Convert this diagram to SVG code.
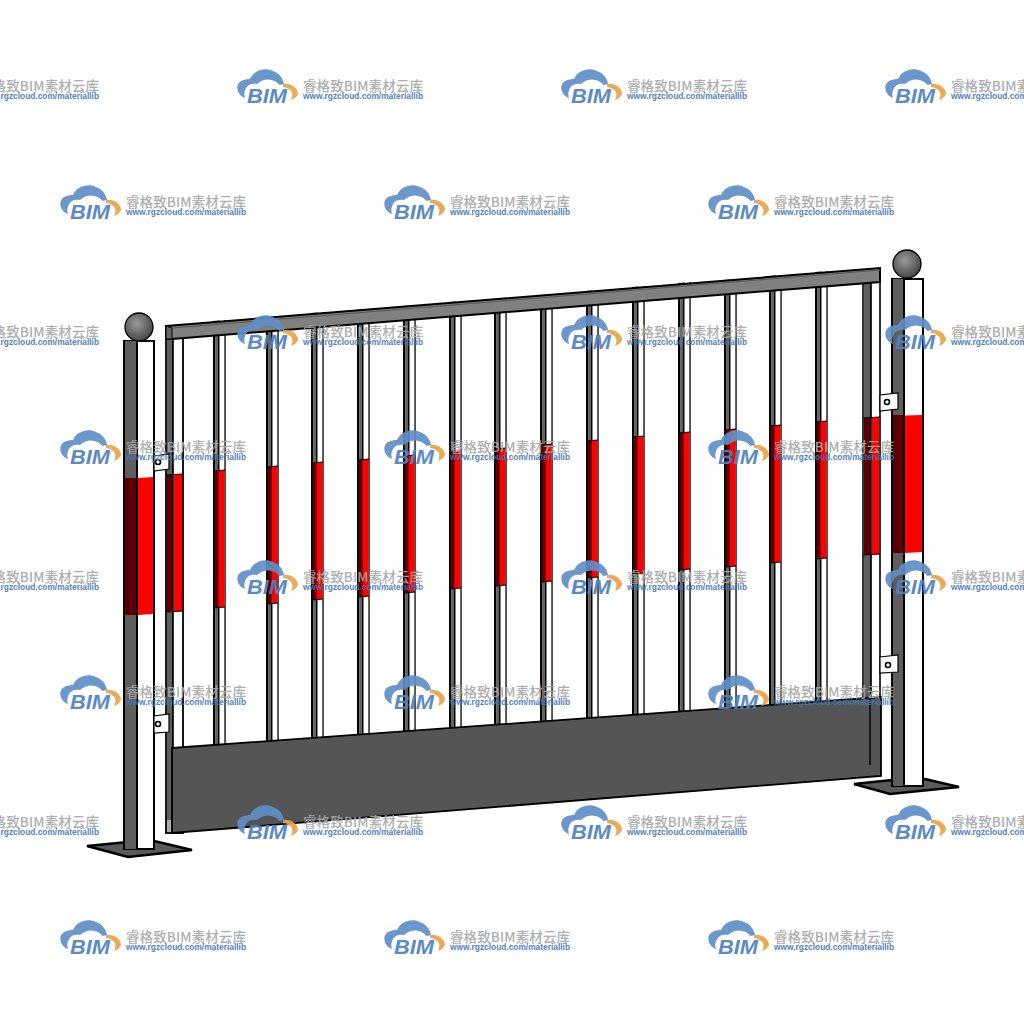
<svg xmlns="http://www.w3.org/2000/svg" xmlns:xlink="http://www.w3.org/1999/xlink" width="1024" height="1024" viewBox="0 0 1024 1024">
<style>
.k{fill:#000}.g{fill:#5e5e5e}.w{fill:#fff}.r{fill:#f00}.d{fill:#5a0000}
.wm1{font-family:"Noto Sans CJK SC","Liberation Sans",sans-serif;font-size:13.5px;font-weight:500;fill:#a8a8a8}
.wm2{font-family:"Liberation Sans",sans-serif;font-size:8.6px;font-weight:700;fill:#4477b8}
.wm3{font-family:"Liberation Sans",sans-serif;font-size:20px;font-weight:700;font-style:italic;fill:#4f82c0}
</style>
<defs>
<radialGradient id="ball" cx="0.42" cy="0.38" r="0.65"><stop offset="0" stop-color="#999"/><stop offset="1" stop-color="#444"/></radialGradient>
<g id="bar">
<rect x="0" y="-150" width="2.500" height="450" class="k"/>
<rect x="2.500" y="-150" width="2.300" height="450" class="g"/>
<rect x="4.800" y="-150" width="1.900" height="450" class="k"/>
<rect x="6.700" y="-150" width="4.600" height="450" class="w"/>
<rect x="11.300" y="-150" width="1.500" height="450" fill="#222"/>
<rect x="1.500" y="0" width="4" height="137" class="d"/>
<rect x="5.500" y="0" width="6" height="137" class="r"/>
<path d="M1 0H12M1 137H12" stroke="#000" stroke-width="1" fill="none"/>
</g>
<g id="wm" opacity="0.92">
<path d="M7 28C-2 25-4 12 6 10C8 9 10 9 12 9C16 0 27-3 35 1C41 3 45 8 46 14L41.500 15C37 9 27 7 19 14C15 13 10 14 8 18C6 22 6 25 7 28Z" fill="#5f8fc6"/>
<path d="M45 14C53 13 60 18 60 24C59 27 56 29 53 30C55 26 55 22 52 20C50 18 47 17 45 17Z" fill="#e8a44c"/>
<text class="wm3" x="9" y="33" textLength="40" lengthAdjust="spacingAndGlyphs">BIM</text>
<text class="wm1" x="65" y="21" textLength="120" lengthAdjust="spacing">睿格致BIM素材云库</text>
<text class="wm2" x="65" y="29" textLength="120" lengthAdjust="spacingAndGlyphs">www.rgzcloud.com/materiallib</text>
</g>
</defs>
<rect width="1024" height="1024" fill="#fff"/>
<g id="bars">
<g id="bar-first">
<rect x="166" y="330" width="17" height="503" fill="#fff" stroke="#000" stroke-width="1.800"/>
<rect x="167" y="330" width="5" height="490" class="g"/>
<rect x="167" y="820" width="5" height="12" fill="#aaa"/>
<rect x="172" y="330" width="1.800" height="503" class="k"/>
<path d="M167 475L172 475V612H167Z" class="d"/>
<path d="M173.800 475L182 474V611L173.800 612Z" class="r"/>
<path d="M166 475L183 474M166 612L183 611" stroke="#000" stroke-width="1"/>
</g>
<use xlink:href="#bar" href="#bar" transform="translate(213,471) skewY(-4.7)"/>
<use xlink:href="#bar" href="#bar" transform="translate(266,467) skewY(-4.7)"/>
<use xlink:href="#bar" href="#bar" transform="translate(311,463) skewY(-4.7)"/>
<use xlink:href="#bar" href="#bar" transform="translate(357,460) skewY(-4.7)"/>
<use xlink:href="#bar" href="#bar" transform="translate(403,456) skewY(-4.7)"/>
<use xlink:href="#bar" href="#bar" transform="translate(449,452) skewY(-4.7)"/>
<use xlink:href="#bar" href="#bar" transform="translate(494,449) skewY(-4.7)"/>
<use xlink:href="#bar" href="#bar" transform="translate(540,445) skewY(-4.7)"/>
<use xlink:href="#bar" href="#bar" transform="translate(586,441) skewY(-4.7)"/>
<use xlink:href="#bar" href="#bar" transform="translate(632,437) skewY(-4.7)"/>
<use xlink:href="#bar" href="#bar" transform="translate(678,433) skewY(-4.7)"/>
<use xlink:href="#bar" href="#bar" transform="translate(724,430) skewY(-4.7)"/>
<use xlink:href="#bar" href="#bar" transform="translate(769,426) skewY(-4.7)"/>
<use xlink:href="#bar" href="#bar" transform="translate(815,422) skewY(-4.7)"/>
<g id="bar-last">
<rect x="863" y="275" width="17" height="480" fill="#fff" stroke="#000" stroke-width="1.600"/>
<rect x="864" y="275" width="6" height="480" class="g"/>
<rect x="870" y="275" width="1.800" height="490" class="k"/>
<path d="M864 418L870 418V555H864Z" class="d"/>
<path d="M871.800 418L879 417V554L871.800 555Z" class="r"/>
<path d="M863 418L880 417M863 555L880 554" stroke="#000" stroke-width="1"/>
</g>
</g>
<g id="rail">
<path d="M166 326L880 268V282L172 339H166Z" fill="#808080" stroke="#000" stroke-width="2"/>
<path d="M166 326L172 328V339H166Z" fill="#666" stroke="#000" stroke-width="1"/>
<path d="M172 328L880 270" stroke="#555" stroke-width="1" fill="none"/>
</g>
<g id="panel">
<path d="M172 748L881 697V776L172 833Z" fill="#555" stroke="#000" stroke-width="1.800"/>
<path d="M870 698V765" stroke="#000" stroke-width="1.400"/>
</g>
<g id="left-post">
<path d="M87 846L128 842L150 840L192 850L128 857Z" fill="#5a5a5a" stroke="#000" stroke-width="2.500"/>
<rect x="124" y="341" width="30" height="508" fill="#fff" stroke="#000" stroke-width="2"/>
<rect x="125" y="341" width="11" height="508" class="g"/>
<rect x="136" y="341" width="2" height="508" class="k"/>
<path d="M125 478H136V615H125Z" class="d"/>
<path d="M138 478L153 477V614L138 615Z" class="r"/>
<circle cx="139" cy="327" r="14" fill="url(#ball)" stroke="#000" stroke-width="1.300"/>
</g>
<g id="right-post">
<path d="M854 784L892 780L925 779L959 787L890 794Z" fill="#5a5a5a" stroke="#000" stroke-width="2.500"/>
<rect x="892" y="279" width="31" height="507" fill="#fff" stroke="#000" stroke-width="2"/>
<rect x="893" y="279" width="10" height="507" class="g"/>
<rect x="903" y="279" width="2" height="507" class="k"/>
<path d="M893 415H903V553H893Z" class="d"/>
<path d="M905 415.500L922 415V552L905 553Z" class="r"/>
<circle cx="907" cy="264" r="14" fill="url(#ball)" stroke="#000" stroke-width="1.300"/>
</g>
<g id="brackets" fill="#fff" stroke="#000" stroke-width="1.200">
<g id="bracket-1"><path d="M154 456L169 454V469L154 471Z"/><circle cx="158" cy="462" r="2.500" stroke-width="1.600"/></g>
<g id="bracket-2"><path d="M154 716L169 714V732L154 733Z"/><circle cx="158" cy="724" r="2.500" stroke-width="1.600"/></g>
<g id="bracket-3"><path d="M880 395L898 393V409L880 411Z"/><circle cx="887" cy="402" r="2.500" stroke-width="1.600"/></g>
<g id="bracket-4"><path d="M880 657L898 655V672L880 673Z"/><circle cx="888" cy="665" r="2.500" stroke-width="1.600"/></g>
</g>
<g id="watermarks">
<use href="#wm" x="-86" y="70"/><use href="#wm" x="238" y="70"/><use href="#wm" x="562" y="70"/><use href="#wm" x="886" y="70"/>
<use href="#wm" x="61" y="186"/><use href="#wm" x="385" y="186"/><use href="#wm" x="709" y="186"/>
<use href="#wm" x="-86" y="316"/><use href="#wm" x="238" y="316"/><use href="#wm" x="562" y="316"/><use href="#wm" x="886" y="316"/>
<use href="#wm" x="61" y="431"/><use href="#wm" x="385" y="431"/><use href="#wm" x="709" y="431"/>
<use href="#wm" x="-86" y="561"/><use href="#wm" x="238" y="561"/><use href="#wm" x="562" y="561"/><use href="#wm" x="886" y="561"/>
<use href="#wm" x="61" y="676"/><use href="#wm" x="385" y="676"/><use href="#wm" x="709" y="676"/>
<use href="#wm" x="-86" y="806"/><use href="#wm" x="238" y="806"/><use href="#wm" x="562" y="806"/><use href="#wm" x="886" y="806"/>
<use href="#wm" x="61" y="921"/><use href="#wm" x="385" y="921"/><use href="#wm" x="709" y="921"/>
</g>
</svg>
